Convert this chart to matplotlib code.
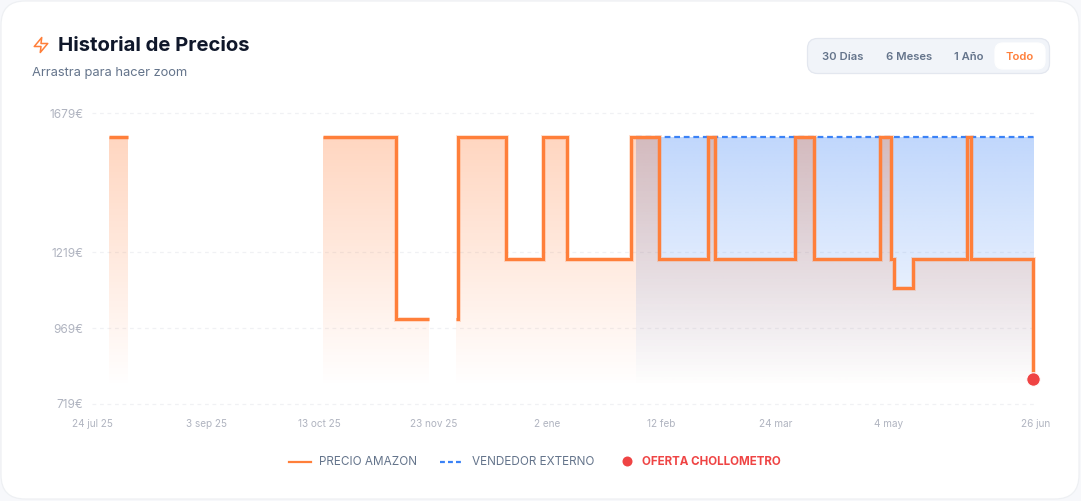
import numpy as np
import matplotlib
matplotlib.use("Agg")
import matplotlib.pyplot as plt
from matplotlib.colors import to_rgb
from matplotlib.lines import Line2D
from matplotlib.patches import FancyBboxPatch, Polygon
from matplotlib.path import Path

plt.rcParams['font.family'] = ['Inter', 'DejaVu Sans']

# days counted from 24 jul 25, prices in euro. nan = no data
amazon_days = [6.1, 12.7, 12.8,
               82.4, 108.6, 120.4, 120.5,
               130.0, 130.6, 147.9, 161.1, 169.6, 192.4, 202.6, 220.1, 222.5, 251.2,
               257.9, 281.3, 285.2, 286.4, 293.3, 312.5, 314.1, 336.1]
amazon_prices = [1600, 1600, np.nan,
                 1600, 1000, 1000, np.nan,
                 1000, 1600, 1199, 1600, 1199, 1600, 1199, 1600, 1199, 1600,
                 1199, 1600, 1199, 1101, 1199, 1600, 1199, 801]
external_days = [194.3, 336.3]
external_prices = [1600, 1600]
deal_day = 336.1
deal_price = 801

y_ticks = [719, 969, 1219, 1679]
y_labels = ['719€', '969€', '1219€', '1679€']
x_ticks = [0, 41, 81.3, 122.2, 162.6, 203.4, 244, 284.6, 337]
x_labels = ['24 jul 25', '3 sep 25', '13 oct 25', '23 nov 25', '2 ene', '12 feb', '24 mar', '4 may', '26 jun']

ORANGE = '#ff7f3a'
BLUE = '#3b82f6'
RED = '#ef4444'
SLATE = '#64748b'
TICK = '#b0b4c0'
W, H = 1081, 501

fig = plt.figure(figsize=(W / 100, H / 100), dpi=100, facecolor='#f7f8fb')

# overlay in pixel coordinates for the card, header and legend
bg = fig.add_axes([0, 0, 1, 1], zorder=0)
bg.set_xlim(0, W)
bg.set_ylim(H, 0)
bg.axis('off')


def box(x0, y0, x1, y1, r, face, edge):
    bg.add_patch(FancyBboxPatch((x0 + r, y0 + r), x1 - x0 - 2 * r, y1 - y0 - 2 * r,
                                boxstyle='round,pad=%f,rounding_size=%f' % (r, r),
                                fc=face, ec=edge, lw=0.9))


box(1, 1, 1079, 499, 24, 'white', '#eef0f3')
box(807.5, 38.5, 1049.5, 73.5, 10, '#f1f4f9', '#e3e7ef')
box(995, 43, 1045, 69, 8, 'white', 'white')

# lightning icon
zap = [(13, 2), (3, 14), (12, 14), (11, 22), (21, 10), (12, 10)]
bg.add_patch(Polygon([(32 + 0.75 * a, 36 + 0.75 * b) for a, b in zap], closed=True, fill=False,
                     ec=ORANGE, lw=1.1, joinstyle='round'))

bg.text(58, 45.8, 'Historial de Precios', fontsize=14.6, fontweight='bold', color='#0f172a', va='center')
bg.text(32, 73, 'Arrastra para hacer zoom', fontsize=9.3, color=SLATE, va='center')

for cx, label in zip([843, 909, 968.5], ['30 Días', '6 Meses', '1 Año']):
    bg.text(cx, 56.5, label, fontsize=8.1, fontweight='semibold', color=SLATE, ha='center', va='center')
bg.text(1020, 56.5, 'Todo', fontsize=8.1, fontweight='semibold', color=ORANGE, ha='center', va='center')

# legend
bg.add_line(Line2D([289, 311], [461.5, 461.5], color=ORANGE, lw=1.6))
bg.text(319, 462.3, 'PRECIO AMAZON', fontsize=8.45, color=SLATE, va='center')
bg.add_line(Line2D([440, 462], [461.5, 461.5], color=BLUE, lw=1.6, dashes=(2.2, 1.4)))
bg.text(472, 462.3, 'VENDEDOR EXTERNO', fontsize=8.45, color=SLATE, va='center')
bg.plot([627], [461], 'o', color=RED, ms=7.2, mew=0)
bg.text(642, 462.3, 'OFERTA CHOLLOMETRO', fontsize=8.35, fontweight='bold', color=RED, va='center')

# main chart
ax = fig.add_axes([92 / W, 1 - 404 / H, 945 / W, 291 / H], zorder=1)
ax.patch.set_alpha(0)
for s in ax.spines.values():
    s.set_visible(False)

FADE_TOP = 1600
FADE_BOTTOM = 775


def gradient_area(days, prices, color):
    days = np.array(days, dtype=float)
    prices = np.array(prices, dtype=float)
    area = ax.fill_between(days, prices, FADE_BOTTOM, step='post', where=~np.isnan(prices),
                           color='none', lw=0)
    clip = Path.make_compound_path(*area.get_paths())
    rgba = np.zeros((128, 1, 4))
    rgba[:, :, :3] = to_rgb(color)
    rgba[:, 0, 3] = np.linspace(0.32, 0, 128)
    img = ax.imshow(rgba, extent=(days[0], days[-1], FADE_BOTTOM, FADE_TOP), aspect='auto',
                    origin='upper', interpolation='bilinear', zorder=1)
    img.set_clip_path(clip, transform=ax.transData)


gradient_area(external_days, external_prices, BLUE)
gradient_area(amazon_days, amazon_prices, ORANGE)

ax.plot(external_days, external_prices, color=BLUE, lw=1.6, dashes=(2.6, 1.7), zorder=2)
ax.plot(amazon_days, amazon_prices, drawstyle='steps-post', color=ORANGE, lw=3.6, alpha=0.22,
        solid_joinstyle='miter', solid_capstyle='butt', zorder=3)
ax.plot(amazon_days, amazon_prices, drawstyle='steps-post', color=ORANGE, lw=2.2,
        solid_joinstyle='miter', solid_capstyle='butt', zorder=4)
ax.scatter([deal_day], [deal_price], s=95, color=RED, edgecolors='white', linewidths=0.8,
           zorder=5, clip_on=False)

ax.set_xlim(0, 337.5)
ax.set_ylim(719, 1679)
ax.set_xticks(x_ticks, x_labels)
ax.set_yticks(y_ticks, y_labels)
ax.tick_params(axis='x', length=0, pad=10.6, labelsize=7.2, labelcolor=TICK)
ax.tick_params(axis='y', length=0, pad=6.2, labelsize=8.5, labelcolor=TICK)
ax.grid(axis='y', color='#f0f1f4', lw=0.9, dashes=(3, 3), zorder=0, clip_on=False)
ax.set_axisbelow(True)

fig.savefig('out.png', dpi=100, facecolor=fig.get_facecolor())
